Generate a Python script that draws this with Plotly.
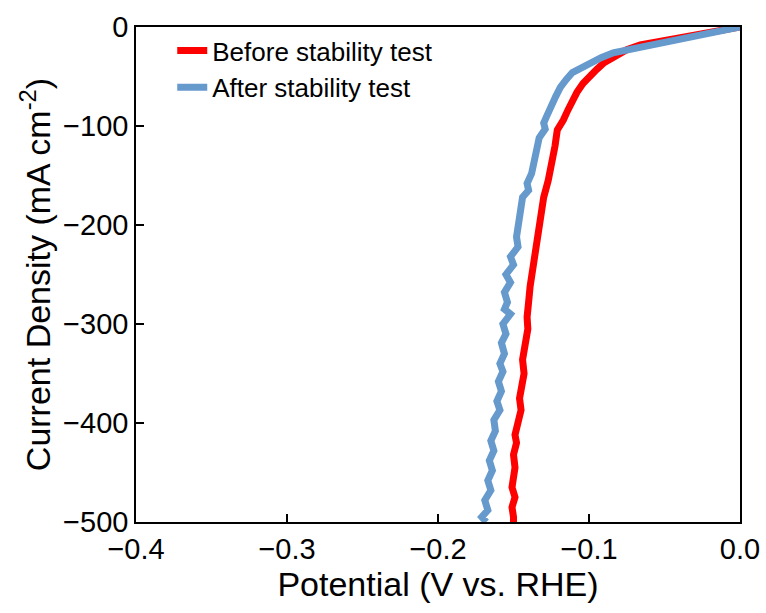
import plotly.graph_objects as go

# Before stability test (red)
before_v = [0.000, -0.008, -0.015, -0.025, -0.035, -0.044, -0.055, -0.066, -0.075, -0.084,
            -0.090, -0.095, -0.100, -0.104, -0.108, -0.111, -0.114, -0.117, -0.121, -0.1225,
            -0.1245, -0.127, -0.130, -0.132, -0.134, -0.136, -0.138, -0.139, -0.140, -0.141,
            -0.1405, -0.142, -0.144, -0.143, -0.145, -0.146, -0.145, -0.147, -0.149, -0.148,
            -0.150, -0.149, -0.150, -0.151, -0.149, -0.151, -0.150, -0.150]
before_j = [0, -2, -4, -7, -9, -11, -14, -18, -23, -30,
            -36, -43, -50, -57, -66, -74, -84, -94, -104, -120,
            -137, -155, -172, -192, -212, -230, -245, -262, -278, -293,
            -305, -320, -336, -350, -362, -375, -387, -400, -412, -420,
            -432, -445, -455, -465, -475, -485, -495, -500]

# After stability test (blue)
after_v = [0.000, -0.010, -0.020, -0.033, -0.045, -0.055, -0.066, -0.075, -0.084, -0.092,
           -0.099, -0.105, -0.111, -0.115, -0.119, -0.122, -0.126, -0.128, -0.130, -0.129,
           -0.133, -0.135, -0.137, -0.138, -0.141, -0.140, -0.144, -0.145, -0.146, -0.148,
           -0.147, -0.152, -0.150, -0.155, -0.152, -0.156, -0.154, -0.156, -0.152, -0.157,
           -0.155, -0.158, -0.156, -0.159, -0.157, -0.160, -0.158, -0.161, -0.159, -0.163,
           -0.162, -0.165, -0.163, -0.166, -0.164, -0.167, -0.165, -0.169, -0.167, -0.171,
           -0.168]
after_j = [0, -3, -6, -11, -14, -17, -20, -23, -26, -31,
           -36, -41, -46, -53, -61, -70, -81, -90, -97, -103,
           -112, -125, -137, -148, -158, -165, -172, -185, -197, -212,
           -222, -232, -240, -250, -258, -268, -278, -285, -290, -300,
           -310, -319, -330, -340, -348, -358, -368, -378, -387, -397,
           -408, -418, -428, -438, -448, -458, -468, -478, -488, -495,
           -500]

x_ticks = [-0.4, -0.3, -0.2, -0.1, 0.0]
y_ticks = [0, -100, -200, -300, -400, -500]

font_family = "Liberation Sans, Arial, sans-serif"

fig = go.Figure()
fig.add_trace(go.Scatter(x=before_v, y=before_j, mode="lines", name="Before stability test",
                         line=dict(color="#FF0000", width=7)))
fig.add_trace(go.Scatter(x=after_v, y=after_j, mode="lines", name="After stability test",
                         line=dict(color="#6699CC", width=7)))

fig.update_layout(
    width=766, height=613,
    margin=dict(l=136, r=26, t=27, b=91),
    paper_bgcolor="white", plot_bgcolor="white",
    font=dict(family=font_family, color="black", size=29),
    showlegend=True,
    legend=dict(x=0.06, y=1.0, xanchor="left", yanchor="top",
                font=dict(size=26, family=font_family), bgcolor="rgba(0,0,0,0)",
                tracegroupgap=0, itemwidth=30),
    xaxis=dict(range=[-0.4, 0.0], tickvals=x_ticks, tickformat=".1f",
               ticks="inside", ticklen=8, tickwidth=1.5, tickcolor="black",
               showline=True, linecolor="black", linewidth=1.5, mirror=True,
               showgrid=False, zeroline=False, automargin=False,
               tickfont=dict(size=29),
               title=dict(text="Potential (V vs. RHE)", font=dict(size=34), standoff=6)),
    yaxis=dict(range=[-500, 0], tickvals=y_ticks,
               ticks="inside", ticklen=8, tickwidth=1.5, tickcolor="black",
               showline=True, linecolor="black", linewidth=1.5, mirror=True,
               showgrid=False, zeroline=False, automargin=False,
               tickfont=dict(size=29),
               title=dict(text="Current Density (mA cm<sup>-2</sup>)", font=dict(size=34), standoff=2)),
)

fig.write_html("out.html")
